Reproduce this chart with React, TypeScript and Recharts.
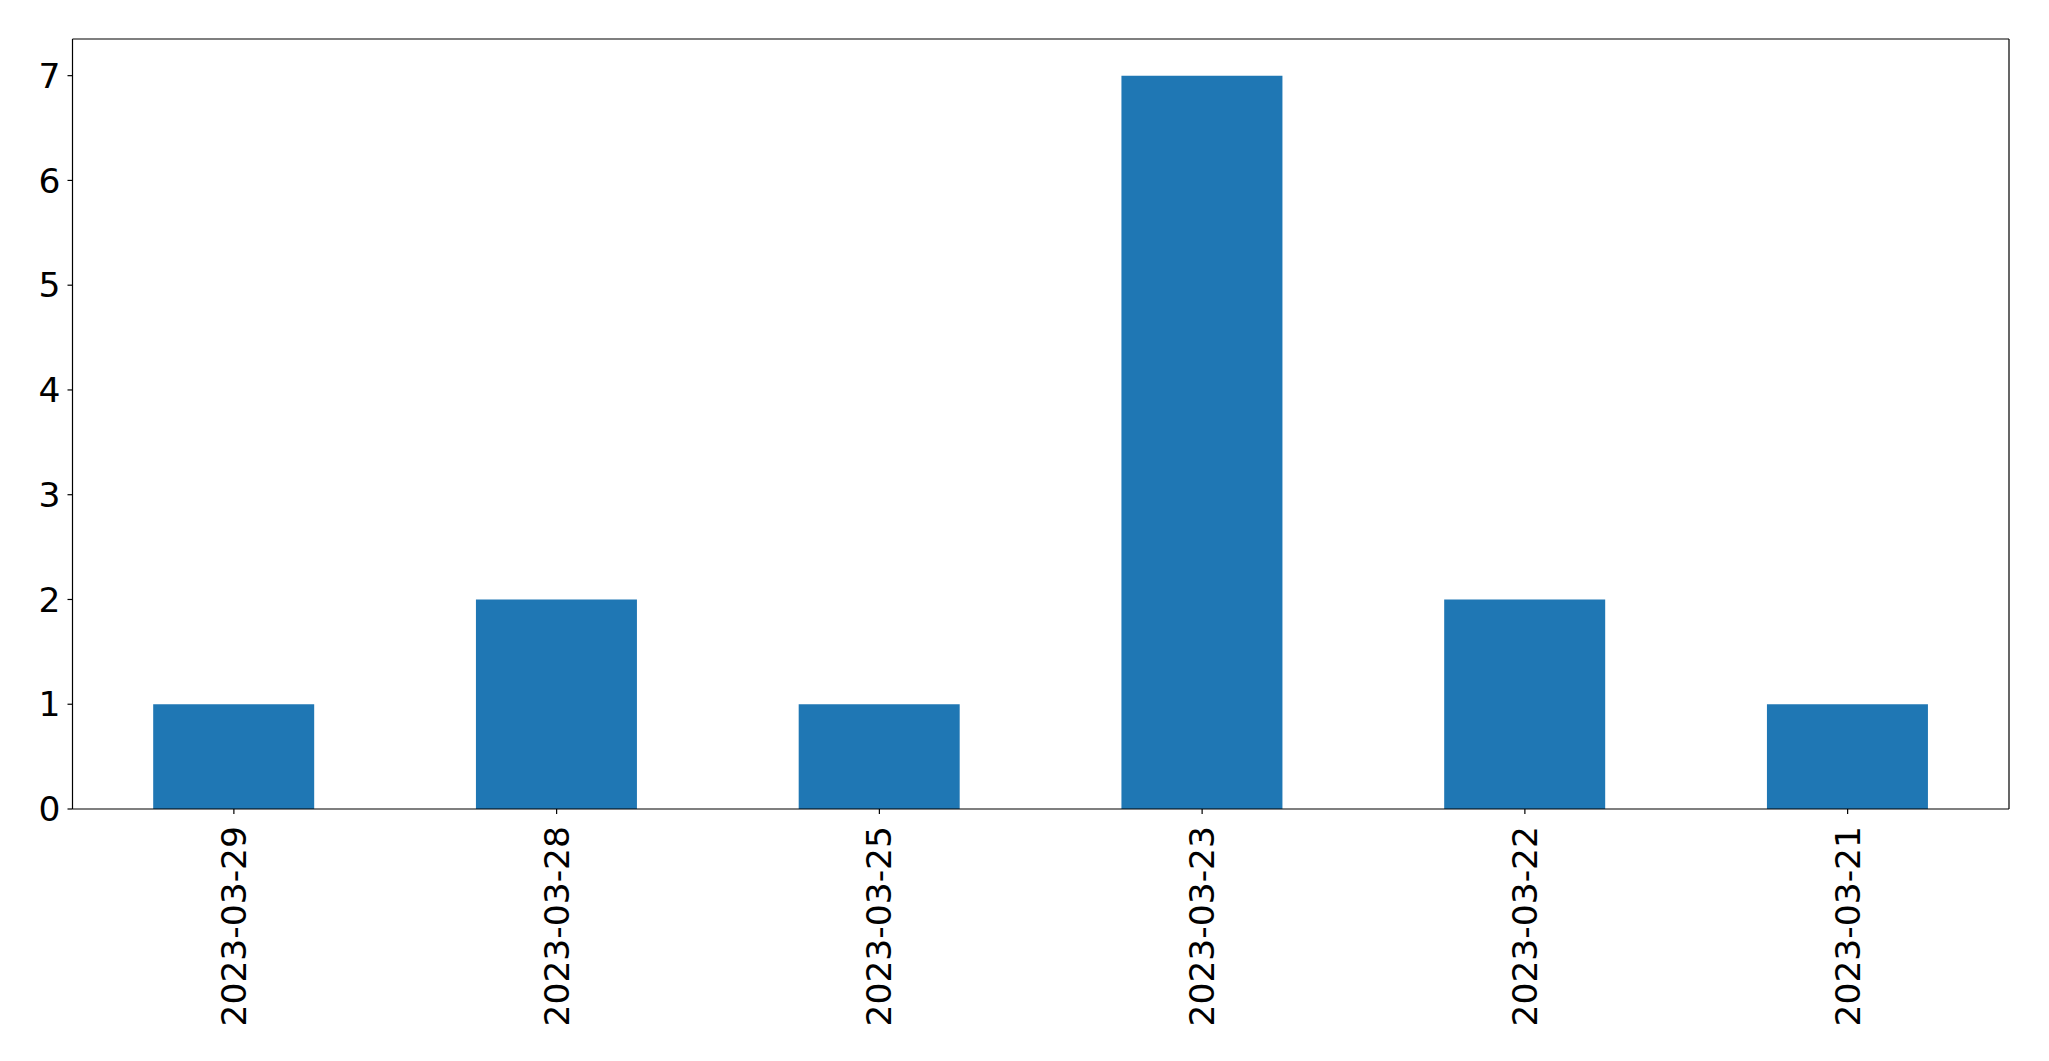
import React from 'react';
import { BarChart, Bar, XAxis, YAxis } from 'recharts';

const dates = ['2023-03-29', '2023-03-28', '2023-03-25', '2023-03-23', '2023-03-22', '2023-03-21'];
const counts = [1, 2, 1, 7, 2, 1];
const yTicks = [0, 1, 2, 3, 4, 5, 6, 7];

const data = dates.map((d, i) => ({ date: d, count: counts[i] }));

const FONT = "'DejaVu Sans', sans-serif";

function DateTick(props: any) {
  const { x, y, payload } = props;
  return (
    <g transform={`translate(${x},${y})`}>
      <text
        transform="rotate(-90)"
        textAnchor="end"
        dx={-10}
        dominantBaseline="central"
        fontSize={34.5}
        fontFamily={FONT}
        fill="#000"
      >
        {payload.value}
      </text>
    </g>
  );
}

export default function App() {
  return (
    <div style={{ position: 'absolute', left: 0, top: 0, background: '#fff' }}>
      <BarChart
        width={2049}
        height={1061}
        data={data}
        margin={{ top: 38, right: 39, left: 0, bottom: 0 }}
        barCategoryGap="25%"
      >
        <XAxis
          dataKey="date"
          height={252}
          interval={0}
          tick={<DateTick />}
          tickSize={5}
          tickLine={{ stroke: '#000', strokeWidth: 1.2 }}
          axisLine={{ stroke: '#000', strokeWidth: 1.2 }}
        />
        <XAxis
          xAxisId="top"
          dataKey="date"
          orientation="top"
          height={1}
          tick={false}
          tickLine={false}
          axisLine={{ stroke: '#000', strokeWidth: 1.2 }}
        />
        <YAxis
          width={72.5}
          domain={[0, 7.35]}
          ticks={yTicks}
          interval={0}
          tickSize={5}
          tickMargin={7}
          tick={{ fontSize: 34.5, fontFamily: FONT, fill: '#000' }}
          tickLine={{ stroke: '#000', strokeWidth: 1.2 }}
          axisLine={{ stroke: '#000', strokeWidth: 1.2 }}
        />
        <YAxis
          yAxisId="right"
          orientation="right"
          width={1}
          domain={[0, 7.35]}
          tick={false}
          tickLine={false}
          axisLine={{ stroke: '#000', strokeWidth: 1.2 }}
        />
        <Bar dataKey="count" fill="#1f77b4" isAnimationActive={false} />
      </BarChart>
    </div>
  );
}
